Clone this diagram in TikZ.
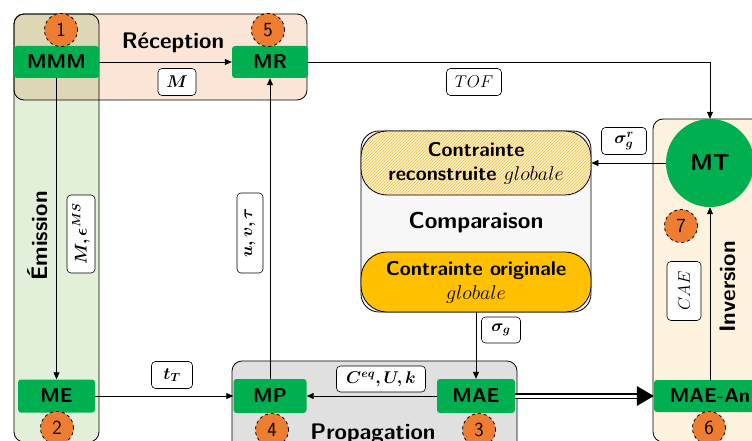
\RequirePackage{fix-cm}
\documentclass[tikz,border=0pt]{standalone}
\usepackage{amsmath,bm}
\usetikzlibrary{arrows.meta,patterns}
\definecolor{gnode}{HTML}{00B050}
\definecolor{orng}{HTML}{ED7D31}
\definecolor{pinkbg}{HTML}{FBE5D6}
\definecolor{greenbg}{HTML}{E2F0D9}
\definecolor{tanbg}{RGB}{222,215,182}
\definecolor{greybg}{HTML}{E0E0E0}
\definecolor{creambg}{HTML}{FDF2DE}
\definecolor{compbg}{HTML}{F7F7F7}
\definecolor{gold}{HTML}{FFC000}
\definecolor{goldlight}{HTML}{FFF2CC}
\definecolor{hatchc}{HTML}{F2BE45}
\newcommand\fsz[2]{\fontsize{#1}{#2}\selectfont}
\tikzset{
  gbox/.style={fill=gnode, rounded corners=3pt, inner sep=0pt, font=\sffamily\bfseries\fsz{20}{24}},
  numc/.style={circle, fill=orng, draw=black, dashed, line width=0.8pt, minimum size=33pt, inner sep=0pt, font=\sffamily\fsz{20}{22}},
  lbl/.style={draw, fill=white, rounded corners=4pt, inner xsep=3pt, inner ysep=2pt, line width=0.6pt, minimum height=27pt, font=\fsz{17}{20}},
  sect/.style={font=\sffamily\bfseries\fsz{22.5}{26}},
  region/.style={draw, line width=0.8pt, rounded corners=10pt},
  conn/.style={-{Triangle[length=7pt,width=6pt]}, line width=0.8pt},
}
\begin{document}
\begin{tikzpicture}[x=1pt,y=-1pt]
\useasboundingbox (0,0) rectangle (752,441);
% regions
\fill[greenbg, rounded corners=10pt] (14,14) rectangle (99,442);
\fill[pinkbg, rounded corners=10pt] (14,14) rectangle (307,100);
\begin{scope}
  \clip[rounded corners=10pt] (14,14) rectangle (99,442);
  \fill[tanbg, rounded corners=10pt] (14,14) rectangle (307,100);
\end{scope}
\draw[region] (14,14) rectangle (99,442);
\draw[region] (14,14) rectangle (307,100);
\path[region, fill=greybg] (232,361) rectangle (517,480);
\path[region, fill=creambg] (653,119) rectangle (790,442);
\path[draw, line width=0.8pt, fill=compbg, rounded corners=18pt] (361,131) rectangle (591,312);
% comparison sub-boxes
\node[draw, line width=0.8pt, rounded corners=26pt, minimum width=230pt, minimum height=64pt,
      preaction={fill=goldlight}, pattern=north east lines, pattern color=hatchc,
      align=center, font=\sffamily\bfseries\fsz{20}{24}] (recon) at (476,163)
      {Contrainte\\reconstruite\ $globale$};
\node[draw, line width=0.8pt, rounded corners=26pt, minimum width=230pt, minimum height=60pt,
      fill=gold, align=center, font=\sffamily\bfseries\fsz{20}{24}] (orig) at (476,282)
      {Contrainte originale\\$globale$};
\node[font=\sffamily\bfseries\fsz{23}{26}] (tComp) at (476,223) {Comparaison};
% section titles
\node[sect] (tRec) at (173,43) {Réception};
\node[sect, rotate=90] (tEm) at (38,236) {Émission};
\node[sect, anchor=base] (tProp) at (373,439) {Propagation};
\node[sect, rotate=90] (tInv) at (728,287) {Inversion};
% green nodes
\node[gbox, minimum width=85pt, minimum height=32pt] (MMM) at (56.5,62) {MMM};
\node[gbox, minimum width=76pt, minimum height=32pt] (MR) at (270,62) {MR};
\node[gbox, minimum width=77pt, minimum height=33pt] (ME) at (56.5,396) {ME};
\node[gbox, minimum width=73pt, minimum height=34pt] (MP) at (270,396) {MP};
\node[gbox, minimum width=78pt, minimum height=34pt] (MAE) at (476,396) {MAE};
\node[gbox, minimum width=112pt, minimum height=32pt] (MAEAn) at (710,396) {MAE-An};
\node[circle, fill=gnode, minimum size=88pt, inner sep=0pt, font=\sffamily\bfseries\fsz{23}{25}] (MT) at (710,163) {MT};
% number circles
\node[numc] (n1) at (61,30) {1};
\node[numc] (n5) at (268,30) {5};
\node[numc] (n2) at (57,428) {2};
\node[numc] (n4) at (272,430) {4};
\node[numc] (n3) at (479,430) {3};
\node[numc] (n6) at (709,428) {6};
\node[numc] (n7) at (681,226) {7};
% connectors
\draw[conn] (MMM.east) -- (MR.west);
\draw[conn] (MMM.south) -- (ME.north);
\draw[conn] (ME.east) -- (MP.west);
\draw[conn] (MP.north) -- (MR.south);
\draw[conn] (MAE.west) -- (MP.east);
\draw[conn] (MR.east) -| (MT.north);
\draw[conn] (MT.west) -- (recon.east);
\draw[conn] (orig.south) -- (MAE.north);
\draw[conn] (MAEAn.north) -- (MT.south);
\draw[double, double distance=3pt, line width=1.4pt] (MAE.east) -- ([xshift=-14pt]MAEAn.west);
\fill (MAEAn.west) -- ++(-17,-10) -- ++(0,20) -- cycle;
% connector labels
\node[lbl, minimum width=38pt] (lM) at (177,82) {$\bm{M}$};
\node[lbl, minimum width=55pt] (lTOF) at (474,82) {$TOF$};
\node[lbl, rotate=90, minimum width=78pt, minimum height=28pt] (lMe) at (81,234) {$\bm{M,\epsilon^{MS}}$};
\node[lbl, rotate=90, minimum width=80pt, minimum height=26pt] (luvt) at (250,233) {$\bm{u,v,\tau}$};
\node[lbl, minimum width=41pt] (ltT) at (172,375) {$\bm{t_T}$};
\node[lbl, minimum width=89pt, minimum height=26pt] (lC) at (381,379) {$\bm{C^{eq},U,k}$};
\node[lbl, minimum width=39pt, minimum height=26pt] (lsg) at (501,330) {$\bm{\sigma_g}$};
\node[lbl, minimum width=45pt] (lsgr) at (624,141) {$\bm{\sigma_g^r}$};
\node[lbl, rotate=90, minimum width=59pt, minimum height=34pt] (lCAE) at (684,291) {$CAE$};
\end{tikzpicture}
\end{document}
